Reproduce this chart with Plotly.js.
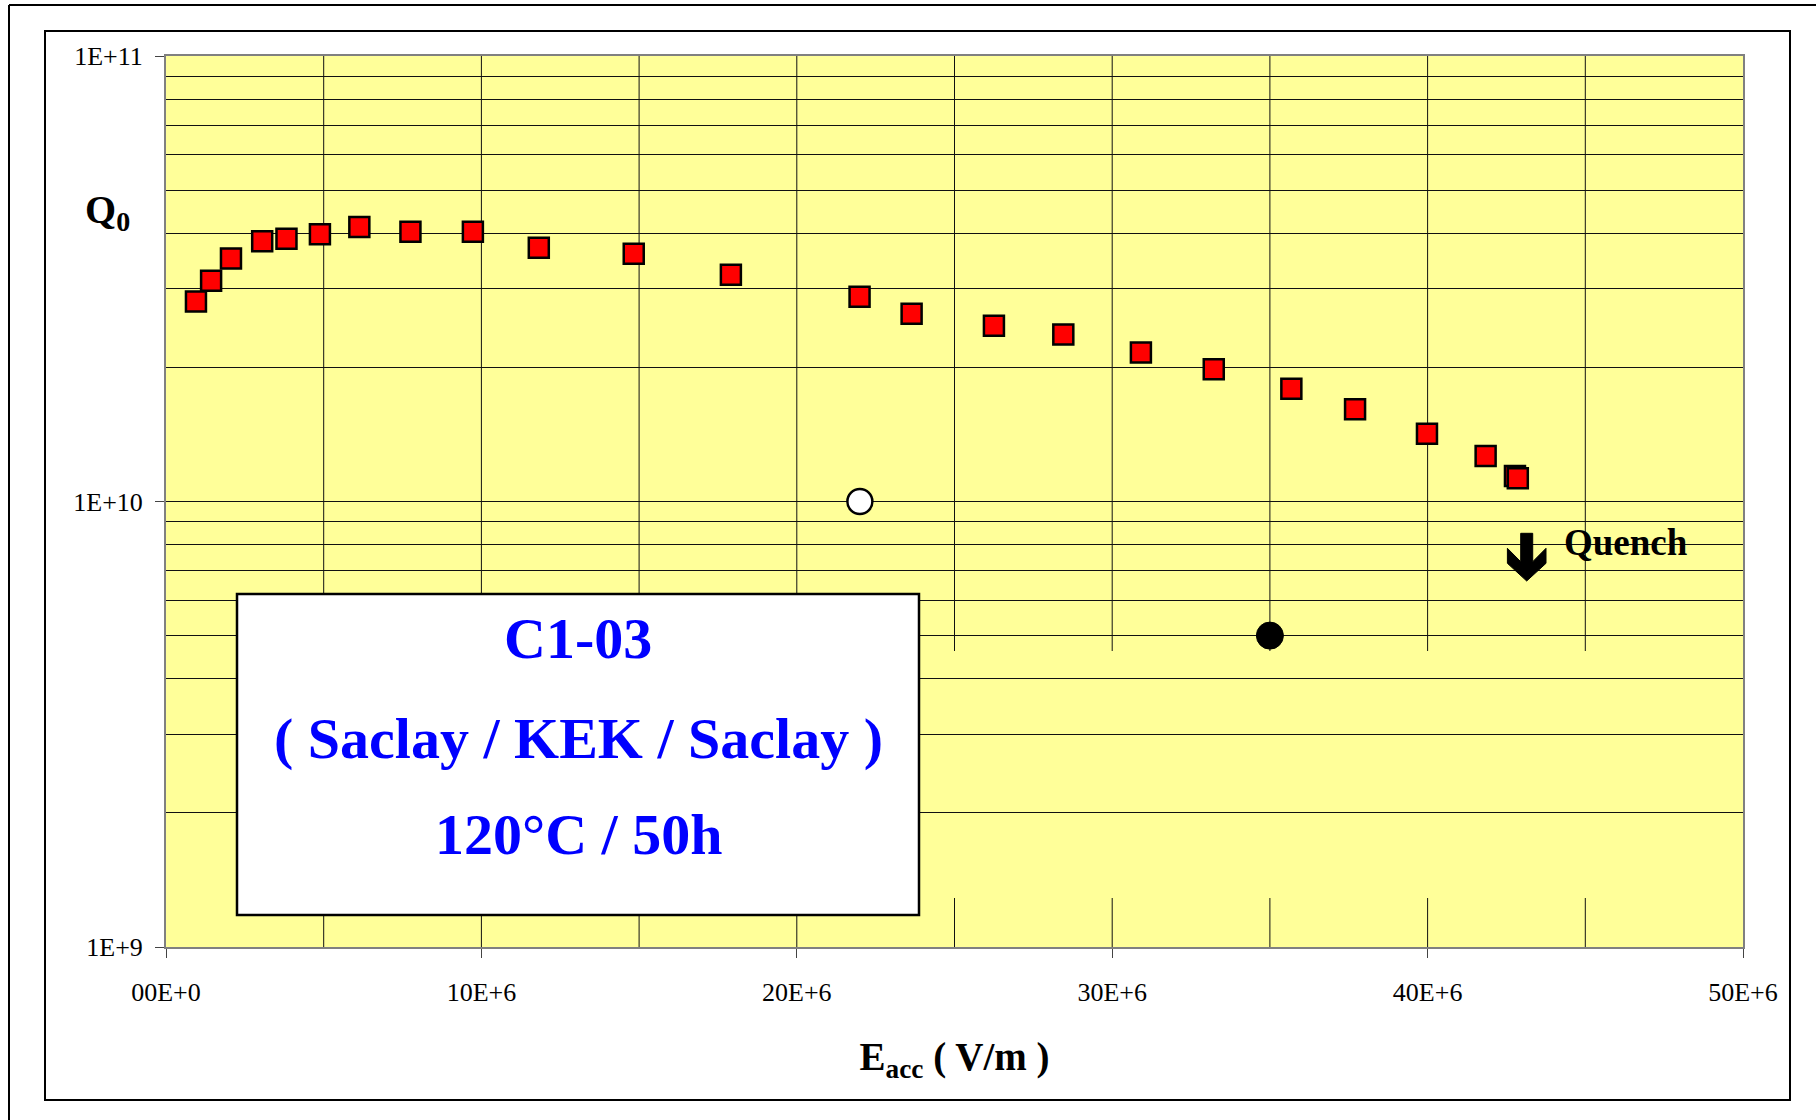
<!DOCTYPE html>
<html>
<head>
<meta charset="utf-8">
<script src="https://cdn.plot.ly/plotly-3.0.1.min.js"></script>
<style>html,body{margin:0;padding:0;background:#fff;}#chart{width:1816px;height:1120px;}</style>
</head>
<body>
<div id="chart"></div>
<script>
// ---- data ----
const EACC = [0.95e6, 1.43e6, 2.06e6, 3.05e6, 3.82e6, 4.88e6, 6.13e6, 7.75e6, 9.73e6, 11.82e6, 14.83e6, 17.91e6, 21.99e6, 23.64e6, 26.25e6, 28.45e6, 30.91e6, 33.22e6, 35.68e6, 37.70e6, 39.98e6, 41.84e6, 42.77e6, 42.86e6];
const Q0 = [2.81e10, 3.13e10, 3.51e10, 3.84e10, 3.89e10, 3.98e10, 4.13e10, 4.03e10, 4.03e10, 3.71e10, 3.60e10, 3.23e10, 2.88e10, 2.64e10, 2.48e10, 2.37e10, 2.16e10, 1.98e10, 1.79e10, 1.61e10, 1.42e10, 1.265e10, 1.141e10, 1.127e10];
const OPEN_X = [22e6];
const OPEN_Q = [1e10];
const FILLED_X = [35e6];
const FILLED_Q = [5e9];

const X_TICKS = [0, 10e6, 20e6, 30e6, 40e6, 50e6];
const X_TICK_LABELS = ['00E+0', '10E+6', '20E+6', '30E+6', '40E+6', '50E+6'];
const X_GRID = [5e6, 10e6, 15e6, 20e6, 25e6, 30e6, 35e6, 40e6, 45e6];
const Y_TICKS = [1e9, 1e10, 1e11];
const Y_TICK_LABELS = ['1E+9', '1E+10', '1E+11'];
const Y_MINOR = [2e9, 3e9, 4e9, 5e9, 6e9, 7e9, 8e9, 9e9, 2e10, 3e10, 4e10, 5e10, 6e10, 7e10, 8e10, 9e10];

const BOX_LINES = ['C1-03', '( Saclay / KEK / Saclay )', '120°C / 50h'];
const X_TITLE = 'E<sub>acc</sub> ( V/m )';
const Y_LABEL = 'Q<sub>0</sub>';
const QUENCH = 'Quench';

// ---- geometry helpers (pixel -> paper) ----
const W = 1816, H = 1120;
const M = {l: 166, r: 73, t: 56, b: 173};
const PW = W - M.l - M.r, PH = H - M.t - M.b;
const px = x => (x - M.l) / PW;
const py = y => (H - M.b - y) / PH;

const FONT = 'Liberation Serif, Times New Roman, serif';
const GRID = '#111111';

const BOX = {x0: 237, x1: 919, y0: 594, y1: 915};
const BOX_RIGHT_DATA = px(BOX.x1) * 50e6;

const shapes = [];
// vertical gridlines (with the gap seen in the original on the right part)
X_GRID.forEach(x => {
  const base = {type: 'line', xref: 'x', yref: 'paper', x0: x, x1: x, layer: 'below', line: {color: GRID, width: 1}};
  if (x > BOX_RIGHT_DATA) {
    shapes.push(Object.assign({}, base, {y0: 0, y1: py(898)}));
    shapes.push(Object.assign({}, base, {y0: py(651), y1: 1}));
  } else {
    shapes.push(Object.assign({}, base, {y0: 0, y1: 1}));
  }
});
// text box
shapes.push({type: 'rect', xref: 'paper', yref: 'paper', x0: px(BOX.x0), x1: px(BOX.x1), y0: py(BOX.y1), y1: py(BOX.y0),
  fillcolor: '#ffffff', line: {color: '#000', width: 2.5}, layer: 'above'});
// frames
shapes.push({type: 'rect', xref: 'paper', yref: 'paper', x0: px(45), x1: px(1790), y0: py(1100), y1: py(31),
  line: {color: '#000', width: 2}, fillcolor: 'rgba(0,0,0,0)'});
shapes.push({type: 'line', xref: 'paper', yref: 'paper', x0: px(9), x1: px(1820), y0: py(5), y1: py(5), line: {color: '#000', width: 2}});
shapes.push({type: 'line', xref: 'paper', yref: 'paper', x0: px(9), x1: px(9), y0: py(5), y1: py(1125), line: {color: '#000', width: 2}});
// quench arrow
const AR = [[1520.7, 533.3], [1532.7, 533.3], [1532.7, 561.7], [1546, 548.3], [1546, 563.3], [1526.7, 581], [1507.4, 563.3], [1507.4, 548.3], [1520.7, 561.7]];
shapes.push({type: 'path', xref: 'paper', yref: 'paper',
  path: 'M' + AR.map(p => px(p[0]).toFixed(5) + ',' + py(p[1]).toFixed(5)).join(' L') + ' Z',
  fillcolor: '#000', line: {color: '#000', width: 1}});

const annotations = [];
const boxY = [638, 738, 834];
BOX_LINES.forEach((t, i) => annotations.push({
  xref: 'paper', yref: 'paper', x: px((BOX.x0 + BOX.x1) / 2), y: py(boxY[i]), xanchor: 'center', yanchor: 'middle',
  text: '<b>' + t + '</b>', showarrow: false, font: {family: FONT, size: 58, color: '#0000FF'}
}));
annotations.push({xref: 'paper', yref: 'paper', x: px(107), y: py(212), xanchor: 'center', yanchor: 'middle',
  text: '<b>' + Y_LABEL + '</b>', showarrow: false, font: {family: FONT, size: 40, color: '#000'}});
annotations.push({xref: 'paper', yref: 'paper', x: px(1562), y: py(542), xanchor: 'left', yanchor: 'middle',
  text: '<b>' + QUENCH + '</b>', showarrow: false, font: {family: FONT, size: 37, color: '#000'}});

const traces = [
  {x: EACC, y: Q0, type: 'scatter', mode: 'markers', name: 'Q0',
   marker: {symbol: 'square', size: 20, color: '#FF0000', line: {color: '#000', width: 2.5}}},
  {x: OPEN_X, y: OPEN_Q, type: 'scatter', mode: 'markers', name: 'open',
   marker: {symbol: 'circle', size: 25, color: '#ffffff', line: {color: '#000', width: 2.5}}},
  {x: FILLED_X, y: FILLED_Q, type: 'scatter', mode: 'markers', name: 'filled',
   marker: {symbol: 'circle', size: 27, color: '#000000', line: {color: '#000', width: 1}}}
];

const layout = {
  width: W, height: H, margin: M,
  paper_bgcolor: '#ffffff', plot_bgcolor: '#FFFF99',
  showlegend: false,
  font: {family: FONT, color: '#000'},
  xaxis: {
    range: [0, 50e6], tickmode: 'array', tickvals: X_TICKS, ticktext: X_TICK_LABELS,
    ticks: 'outside', ticklen: 9, tickwidth: 1, tickcolor: '#444',
    showgrid: false, zeroline: false, showline: true, mirror: true, linecolor: '#808080', linewidth: 2,
    tickfont: {family: FONT, size: 26, color: '#000'}, ticklabelstandoff: 12,
    title: {text: '<b>' + X_TITLE + '</b>', font: {family: FONT, size: 39, color: '#000'}, standoff: 36}
  },
  yaxis: {
    type: 'log', range: [9, 11], tickmode: 'array', tickvals: Y_TICKS, ticktext: Y_TICK_LABELS,
    ticks: 'outside', ticklen: 9, tickwidth: 1, tickcolor: '#444',
    showgrid: true, gridcolor: GRID, gridwidth: 1, zeroline: false,
    showline: true, mirror: true, linecolor: '#808080', linewidth: 2,
    tickfont: {family: FONT, size: 26, color: '#000'}, ticklabelstandoff: 7,
    minor: {tickmode: 'array', tickvals: Y_MINOR, showgrid: true, gridcolor: GRID, gridwidth: 1, ticks: ''}
  },
  shapes: shapes,
  annotations: annotations
};

Plotly.newPlot('chart', traces, layout, {displayModeBar: false, staticPlot: true});
</script>
</body>
</html>
